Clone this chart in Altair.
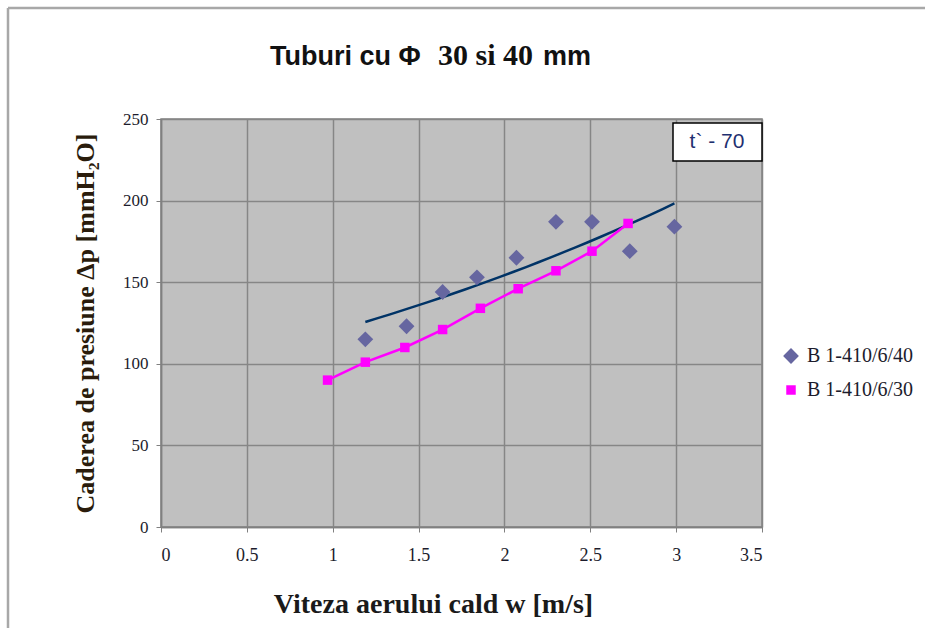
import altair as alt
import pandas as pd

# ---- data ----
series_names = ["B 1-410/6/40", "B 1-410/6/30"]
w_40 = [1.19, 1.43, 1.64, 1.84, 2.07, 2.30, 2.51, 2.73, 2.99]
dp_40 = [115, 123, 144, 153, 165, 187, 187, 169, 184]
w_30 = [0.97, 1.19, 1.42, 1.64, 1.86, 2.08, 2.30, 2.51, 2.72]
dp_30 = [90, 101, 110, 121, 134, 146, 157, 169, 186]
x_ticks = [0, 0.5, 1, 1.5, 2, 2.5, 3, 3.5]
y_ticks = [0, 50, 100, 150, 200, 250]
title_parts = ["Tuburi cu \u03a6", "30 si 40", "mm"]
annotation_text = ["t` - 70"]
x_title = "Viteza aerului cald w  [m/s]"
y_title = "Caderea de presiune \u0394p [mmH\u2082O]"

df = pd.concat([
    pd.DataFrame({"w": w_40, "dp": dp_40, "series": series_names[0]}),
    pd.DataFrame({"w": w_30, "dp": dp_30, "series": series_names[1]}),
], ignore_index=True)

SERIF = "Liberation Serif"
SANS = "Liberation Sans"
TXT = "#1c1c2c"

x_enc = alt.X(
    "w:Q",
    scale=alt.Scale(domain=[0, 3.5], nice=False, zero=False),
    axis=alt.Axis(
        values=x_ticks, format="~g", title=x_title,
        titleX=272, titleY=77, titleAlign="center", titleBaseline="middle",
        titleFont=SERIF, titleFontSize=28, titleFontWeight="bold", titleColor="#1a1a1a",
        labelFont=SERIF, labelFontSize=18, labelColor=TXT, labelPadding=14,
        tickSize=5, tickColor="#808080", domainColor="#808080", domainWidth=1.5,
        grid=True, gridColor="#868686", gridWidth=1.5,
    ),
)
y_enc = alt.Y(
    "dp:Q",
    scale=alt.Scale(domain=[0, 250], nice=False),
    axis=alt.Axis(
        values=y_ticks, title=y_title,
        titleX=-76, titleY=204, titleAngle=-90, titleAlign="center", titleBaseline="middle",
        titleFont=SERIF, titleFontSize=26, titleFontWeight="bold", titleColor="#2a1c0c",
        labelFont=SERIF, labelFontSize=17, labelColor=TXT, labelPadding=8,
        tickSize=5, tickColor="#808080", domainColor="#808080", domainWidth=1.5,
        grid=True, gridColor="#868686", gridWidth=1.5,
    ),
)

base = alt.Chart(df)

trend = base.transform_filter(
    alt.datum.series == series_names[0]
).transform_regression("w", "dp", method="exp").mark_line(
    color="#003366", strokeWidth=2.5
).encode(x=x_enc, y=y_enc)

pink_line = base.transform_filter(
    alt.datum.series == series_names[1]
).mark_line(color="#ff00ff", strokeWidth=2.5).encode(x=x_enc, y=y_enc)

points = base.mark_point(filled=True, opacity=1, strokeWidth=0).encode(
    x=x_enc,
    y=y_enc,
    color=alt.Color(
        "series:N",
        scale=alt.Scale(domain=series_names, range=["#6666a0", "#ff00ff"]),
        legend=alt.Legend(
            title=None, orient="none", legendX=620, legendY=227,
            labelFont=SERIF, labelFontSize=20, labelColor=TXT,
            symbolSize=110, rowPadding=14, labelOffset=6, symbolStrokeWidth=0,
        ),
    ),
    shape=alt.Shape(
        "series:N",
        scale=alt.Scale(domain=series_names, range=["diamond", "square"]),
        legend=None,
    ),
    size=alt.Size(
        "series:N",
        scale=alt.Scale(domain=series_names, range=[250, 90]),
        legend=None,
    ),
)

# annotation box
ann_df = pd.DataFrame({"label": annotation_text})
ann_box = alt.Chart(ann_df).mark_rect(fill="white", stroke="black", strokeWidth=1.5).encode(
    x=alt.value(512), x2=alt.value(601), y=alt.value(4), y2=alt.value(42)
)
ann_text = alt.Chart(ann_df).mark_text(
    font=SANS, fontSize=21, color="#1f3070", align="center", baseline="middle"
).encode(x=alt.value(556), y=alt.value(23), text="label:N")

# title pieces
t_df = pd.DataFrame({"t": title_parts})
title1 = alt.Chart(t_df).transform_filter(alt.datum.t == title_parts[0]).mark_text(
    font=SANS, fontSize=27, fontWeight="bold", color="#111111", align="left", baseline="alphabetic"
).encode(x=alt.value(109), y=alt.value(-54), text="t:N")
title2 = alt.Chart(t_df).transform_filter(alt.datum.t == title_parts[1]).mark_text(
    font=SERIF, fontSize=30, fontWeight="bold", color="#111111", align="left", baseline="alphabetic"
).encode(x=alt.value(277), y=alt.value(-54), text="t:N")
title3 = alt.Chart(t_df).transform_filter(alt.datum.t == title_parts[2]).mark_text(
    font=SANS, fontSize=27, fontWeight="bold", color="#111111", align="left", baseline="alphabetic"
).encode(x=alt.value(382), y=alt.value(-54), text="t:N")

# outer frame (top and left edges visible)
f_df = pd.DataFrame({"k": [0]})
frame_top = alt.Chart(f_df).mark_rule(color="#a8a8a8", strokeWidth=2.5).encode(
    x=alt.value(-153), x2=alt.value(780), y=alt.value(-111)
)
frame_left = alt.Chart(f_df).mark_rule(color="#a8a8a8", strokeWidth=2.5).encode(
    x=alt.value(-153), y=alt.value(-111), y2=alt.value(520)
)

chart = alt.layer(
    trend, pink_line, points, ann_box, ann_text, title1, title2, title3, frame_top, frame_left
).properties(
    width=601, height=408,
    autosize=alt.AutoSizeParams(type="none"),
    padding={"left": 161, "top": 119, "right": 163, "bottom": 101},
    background="white",
).configure_view(
    fill="#c0c0c0", stroke="#808080", strokeWidth=1.5
)

chart.save("out.html", embed_options={"renderer": "svg", "actions": False})
